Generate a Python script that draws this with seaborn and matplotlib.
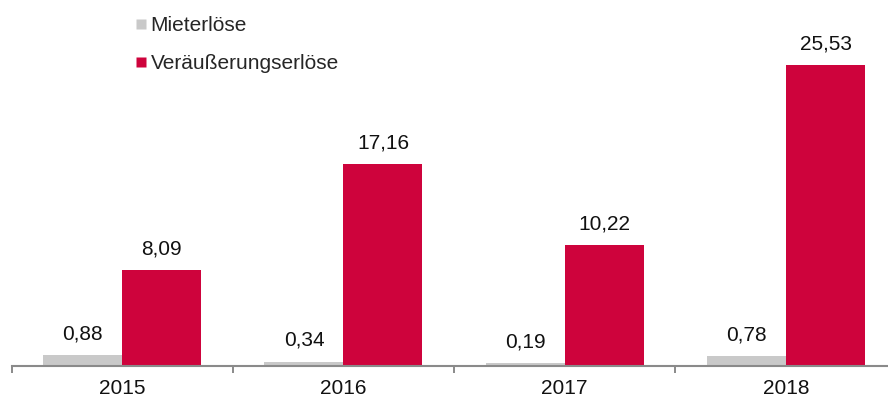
import matplotlib
matplotlib.use("Agg")
import matplotlib.pyplot as plt
from matplotlib.lines import Line2D
import seaborn as sns
import pandas as pd

# Data (Mio. EUR)
years = ["2015", "2016", "2017", "2018"]
series_names = ["Mieterlöse", "Veräußerungserlöse"]
mieterloese = [0.88, 0.34, 0.19, 0.78]
veraeusserungserloese = [8.09, 17.16, 10.22, 25.53]

colors = ["#C9C9C9", "#CE033C"]

df = pd.DataFrame({
    "Jahr": years * 2,
    "Art": [series_names[0]] * len(years) + [series_names[1]] * len(years),
    "Wert": mieterloese + veraeusserungserloese,
})

sns.set_theme(style="white")
plt.rcParams["font.family"] = ["Liberation Sans", "DejaVu Sans"]

FS = 15
W, H = 888, 399
fig = plt.figure(figsize=(W / 100, H / 100), dpi=100)
# axes spans from the left tick to beyond the right edge, baseline near the bottom
ax_left, ax_bottom = 11.5, 33.5
ax_width = 4 * 221.3
ax = fig.add_axes([ax_left / W, ax_bottom / H, ax_width / W, (H - ax_bottom) / H])

sns.barplot(data=df, x="Jahr", y="Wert", hue="Art", hue_order=series_names,
            order=years, palette=colors, width=0.714, gap=0, saturation=1,
            edgecolor="none", linewidth=0, legend=False, ax=ax)

ax.set_xlim(-0.5, 3.5)
ax.set_ylim(0, 31.1)

for cont in ax.containers:
    vals = cont.datavalues
    ax.bar_label(cont, labels=[f"{v:.2f}".replace(".", ",") for v in vals],
                 padding=8.5, fontsize=FS, color="#111111")

# axis styling: only a grey baseline with outward ticks between categories
for side in ["left", "right", "top"]:
    ax.spines[side].set_visible(False)
ax.spines["bottom"].set_color("#8A8A8A")
ax.spines["bottom"].set_linewidth(1.5)
ax.set_yticks([])
ax.set_xticks([-0.5, 0.5, 1.5, 2.5, 3.5])
ax.set_xticklabels([])
ax.set_xticks([0, 1, 2, 3], minor=True)
ax.set_xticklabels(years, minor=True)
ax.tick_params(axis="x", which="major", direction="out", length=5,
               width=1.4, color="#8A8A8A", bottom=True)
ax.tick_params(axis="x", which="minor", length=0, pad=9.5, labelsize=FS,
               labelcolor="#111111")
ax.set_xlabel("")
ax.set_ylabel("")

handles = [Line2D([], [], marker="s", linestyle="none", markersize=7.5,
                  markerfacecolor=c, markeredgecolor="none") for c in colors]
fig.legend(handles, series_names, loc="upper left",
           bbox_to_anchor=(134.8 / W, 1 - 16 / H), frameon=False,
           fontsize=FS, handlelength=0.6, handletextpad=0.15,
           labelspacing=0.92, borderpad=0, borderaxespad=0)

fig.savefig("out.png", dpi=100)
